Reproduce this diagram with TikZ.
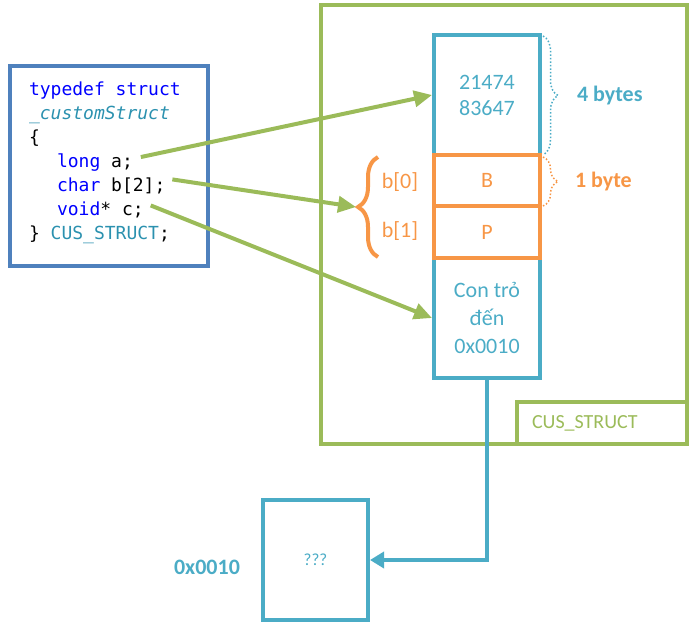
\documentclass[tikz,border=0pt]{standalone}
\usepackage{fontspec}
\setmainfont{Carlito}
\setmonofont{DejaVu Sans Mono}
\usetikzlibrary{arrows.meta,decorations.pathreplacing}
\definecolor{codeframe}{HTML}{4F81BD}
\definecolor{structgreen}{HTML}{9BBB59}
\definecolor{cellblue}{HTML}{4BACC6}
\definecolor{byteorange}{HTML}{F79646}
\definecolor{kwblue}{HTML}{0000FF}
\definecolor{typeteal}{HTML}{2B91AF}
\begin{document}
\begin{tikzpicture}[x = 1pt, y = -1pt, line width = 4pt,
                      code/.style = {anchor = base west, inner sep = 0, font = \ttfamily\fontsize{18}{24}\selectfont},
                      frame/.style = {draw = structgreen, inner sep = 0},
                      cell/.style = {draw = cellblue, text = cellblue, minimum width = 106pt, inner sep = 0,
                                     align = center, font = \fontsize{22}{26}\selectfont},
                      bytecell/.style = {cell, draw = byteorange, text = byteorange},
                      lbl/.style = {inner sep = 0, font = \fontsize{22}{26}\selectfont},
                      link/.style = {draw = structgreen, -{Triangle[length = 18pt, width = 16pt]}},
                      ptr/.style = {draw = cellblue, -{Triangle[length = 14pt, width = 16pt]}},
                      dotbrace/.style = {decorate, decoration = {brace, amplitude = 15pt}, line width = 1.5pt, dotted}]
    \useasboundingbox (0, 0) rectangle (698, 626);

    % struct declaration
    \node [draw = codeframe, minimum width = 198pt, minimum height = 200pt, inner sep = 0] (src) at (109, 166){};
    \node [code] (l1) at (27, 95){\color{kwblue}typedef struct};
    \node [code] (l2) at (27, 119){\color{typeteal}\itshape \_customStruct};
    \node [code] (l3) at (27, 143){\{};
    \node [code] (la) at (55, 167){{\color{kwblue}long} a;};
    \node [code] (lb) at (55, 191){{\color{kwblue}char} b[2];};
    \node [code] (lc) at (55, 215){{\color{kwblue}void}* c;};
    \node [code] (l7) at (27, 239){\} {\color{typeteal}CUS\_STRUCT};};

    % memory of the struct
    \node [frame, minimum width = 366pt, minimum height = 439pt] (outer) at (504, 224.5){};
    \node [frame, minimum width = 170pt, minimum height = 42pt, text = structgreen, text width = 140pt,
           align = left, font = \fontsize{20}{22}\selectfont] (tag) at (602, 423){CUS\_STRUCT};
    \node [cell, minimum height = 120pt] (cella) at (487, 95){21474\\83647};
    \node [cell, minimum height = 120pt] (cellc) at (487, 318){Con trỏ\\[2pt]đến\\[2pt]0x0010};
    \node [bytecell, minimum height = 51pt] (cellb0) at (487, 180.5){B};
    \node [bytecell, minimum height = 52pt] (cellb1) at (487, 232){P};

    \draw [dotbrace, draw = cellblue] (543, 36) -- (543, 155);
    \node [lbl, anchor = west, text = cellblue, font = \bfseries\fontsize{22}{26}\selectfont] (four) at (575, 96){4 bytes};
    \draw [dotbrace, draw = byteorange] (543, 157) -- (543, 206);
    \node [lbl, anchor = west, text = byteorange, font = \bfseries\fontsize{22}{26}\selectfont] (one) at (573, 182){1 byte};

    \coordinate (bbot) at (378, 257);
    \coordinate (btop) at (378, 157);
    \coordinate (btip) at (356, 207);
    \draw [draw = byteorange, decorate, decoration = {brace, amplitude = 20pt}] (bbot) -- (btop);
    \node [lbl, text = byteorange] (b0) at (400, 182){b[0]};
    \node [lbl, text = byteorange] (b1) at (400, 231){b[1]};

    % pointed memory
    \node [draw = cellblue, minimum width = 105pt, minimum height = 120pt, inner sep = 0, text = cellblue,
           font = \fontsize{17}{18}\selectfont] (unk) at (315.5, 560){???};
    \node [lbl, text = cellblue, font = \bfseries\fontsize{22}{26}\selectfont] (addr) at (207, 567){0x0010};

    \draw [link] ([xshift = 6pt, yshift = 5pt]la.east) -- (cella.west);
    \draw [link] ([xshift = 5pt, yshift = 6pt]lb.east) -- (btip);
    \draw [link] ([xshift = 5pt, yshift = 4pt]lc.east) -- (cellc.west);
    \draw [ptr] (cellc.south) |- (unk.east);
\end{tikzpicture}
\end{document}
